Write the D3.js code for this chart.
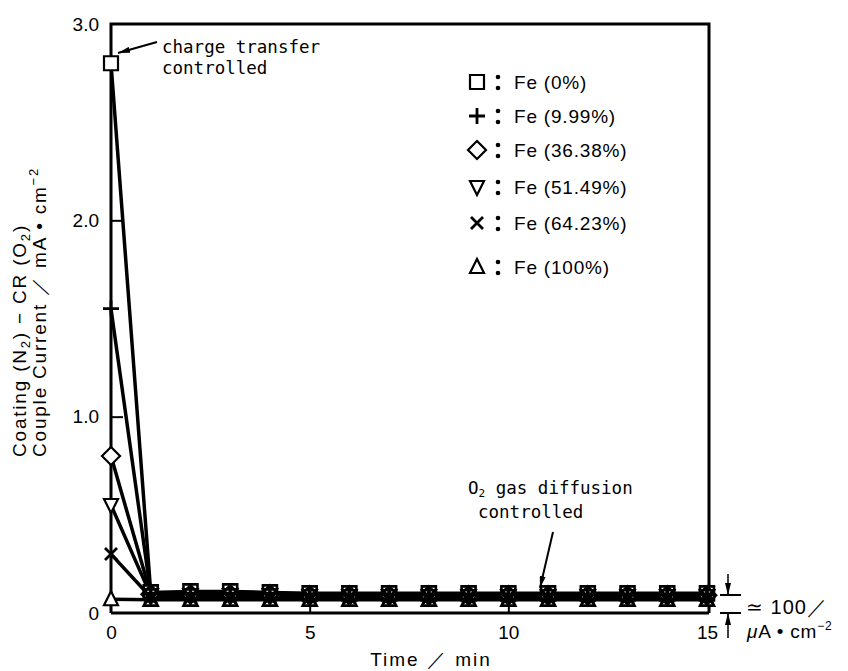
<!DOCTYPE html>
<html><head><meta charset="utf-8">
<script src="https://cdn.jsdelivr.net/npm/d3@7/dist/d3.min.js"></script>
<style>body{margin:0;background:#fff}svg{display:block}</style>
</head><body>
<svg id="c" width="848" height="671"></svg>
<script>
const times = [0,1,2,3,4,5,6,7,8,9,10,11,12,13,14,15];
const seriesNames = ["Fe (0%)","Fe (9.99%)","Fe (36.38%)","Fe (51.49%)","Fe (64.23%)","Fe (100%)"];
const seriesSymbols = ["square","plus","diamond","nabla","cross","triangle"];
const fe0    = [2.80,0.105,0.11,0.11,0.105,0.10,0.10,0.10,0.10,0.10,0.10,0.10,0.10,0.10,0.10,0.10];
const fe999  = [1.55,0.10,0.10,0.10,0.10,0.095,0.095,0.095,0.095,0.095,0.095,0.095,0.095,0.095,0.095,0.095];
const fe3638 = [0.80,0.095,0.095,0.095,0.095,0.09,0.09,0.09,0.09,0.09,0.09,0.09,0.09,0.09,0.09,0.09];
const fe5149 = [0.55,0.09,0.09,0.09,0.09,0.085,0.085,0.085,0.085,0.085,0.085,0.085,0.085,0.085,0.085,0.085];
const fe6423 = [0.30,0.08,0.08,0.08,0.08,0.08,0.08,0.08,0.08,0.08,0.08,0.08,0.08,0.08,0.08,0.08];
const fe100  = [0.07,0.068,0.068,0.068,0.068,0.068,0.068,0.068,0.068,0.068,0.068,0.068,0.068,0.068,0.068,0.068];
const seriesValues = [fe0, fe999, fe3638, fe5149, fe6423, fe100];
const xTicks = [0,5,10,15];
const yTicks = [0,1,2,3];
const yTickLabels = ["0","1.0","2.0","3.0"];

const svg = d3.select("#c");
const L = 111, R = 709, T = 24, B = 613;
const x = d3.scaleLinear().domain([0,15]).range([L,707]);
const y = d3.scaleLinear().domain([0,3]).range([B,T]);
const sans = "'Liberation Sans', Arial, sans-serif";
const mono = "'DejaVu Sans Mono', monospace";

svg.append("defs").append("marker").attr("id","ah").attr("viewBox","0 0 12 6")
  .attr("refX",12).attr("refY",3).attr("markerWidth",12).attr("markerHeight",6)
  .attr("markerUnits","userSpaceOnUse").attr("orient","auto")
  .append("path").attr("d","M0,0 L12,3 L0,6 Z").attr("fill","#000");

// lines
const line = d3.line().x((d,i)=>x(times[i])).y(d=>y(d));
seriesValues.forEach(vals=>{
  svg.append("path").attr("d", line(vals)).attr("fill","none")
    .attr("stroke","#000").attr("stroke-width",3.5);
});

// frame
svg.append("path").attr("d",`M${L},${B} L${L},${T} L${R},${T} L${R},${B}`)
  .attr("fill","none").attr("stroke","#000").attr("stroke-width",3);

// axes
const xAxis = d3.axisBottom(x).tickValues(xTicks).tickSize(-9).tickPadding(13).tickFormat(d3.format("d"));
const gx = svg.append("g").attr("transform",`translate(0,${B})`).call(xAxis);
gx.select(".domain").attr("stroke-width",3).attr("d",`M${L},0H${R}`);
gx.selectAll(".tick line").attr("stroke-width",2);
gx.selectAll(".tick text").attr("font-family",sans).attr("font-size",19).attr("fill","#000");
gx.selectAll(".tick").filter(d=>d===0||d===15).select("line").remove();

const yAxis = d3.axisLeft(y).tickValues(yTicks).tickSize(-12).tickPadding(12).tickFormat((d,i)=>yTickLabels[i]);
const gy = svg.append("g").attr("transform",`translate(${L},0)`).call(yAxis);
gy.select(".domain").remove();
gy.selectAll(".tick line").attr("stroke-width",2);
gy.selectAll(".tick").filter(d=>d===0||d===3).select("line").remove();
gy.selectAll(".tick text").attr("font-family",sans).attr("font-size",19).attr("fill","#000");

// symbols
function symPath(type, cx, cy, s){
  const h = s/2;
  if(type==="square") return `M${cx-h},${cy-h}H${cx+h}V${cy+h}H${cx-h}Z`;
  if(type==="diamond") return `M${cx},${cy-h-2}L${cx+h+2},${cy}L${cx},${cy+h+2}L${cx-h-2},${cy}Z`;
  if(type==="nabla") return `M${cx-h},${cy-h+1}L${cx+h},${cy-h+1}L${cx},${cy+h+1}Z`;
  if(type==="triangle") return `M${cx-h},${cy+h-1}L${cx+h},${cy+h-1}L${cx},${cy-h-1}Z`;
  if(type==="plus") return `M${cx-h-1},${cy}H${cx+h+1}M${cx},${cy-h-1}V${cy+h+1}`;
  return `M${cx-h+1},${cy-h+1}L${cx+h-1},${cy+h-1}M${cx-h+1},${cy+h-1}L${cx+h-1},${cy-h+1}`;
}
const isOpen = t => t==="plus"||t==="cross";
const gFill = svg.append("g"), gStroke = svg.append("g");
seriesValues.forEach((vals,si)=>{
  const t = seriesSymbols[si];
  vals.forEach((v,i)=>{
    const d = symPath(t, x(times[i]), y(v), 14);
    if(!isOpen(t)) gFill.append("path").attr("d",d).attr("fill","#fff");
    gStroke.append("path").attr("d",d).attr("fill","none").attr("stroke","#000")
      .attr("stroke-width", (isOpen(t)?0.6:0) + (i===0 ? 2.2 : 2.6));
  });
});

// legend
const legY = [82,116,150,187,223,267];
const gl = svg.append("g");
seriesNames.forEach((n,i)=>{
  const t = seriesSymbols[i];
  gl.append("path").attr("d",symPath(t,477,legY[i],14)).attr("fill",isOpen(t)?"none":"#fff")
    .attr("stroke","#000").attr("stroke-width",isOpen(t)?2.8:2.2);
  gl.append("circle").attr("cx",498).attr("cy",legY[i]-5).attr("r",2.3);
  gl.append("circle").attr("cx",498).attr("cy",legY[i]+6).attr("r",2.3);
  gl.append("text").attr("x",514).attr("y",legY[i]+7)
    .attr("font-family",sans).attr("font-size",19).attr("letter-spacing",0.8).text(n);
});

// annotations
svg.append("line").attr("x1",157).attr("y1",42).attr("x2",118).attr("y2",53)
  .attr("stroke","#000").attr("stroke-width",2).attr("marker-end","url(#ah)");
svg.append("text").attr("x",162).attr("y",53).attr("font-family",mono).attr("font-size",17.5).text("charge transfer");
svg.append("text").attr("x",162).attr("y",74).attr("font-family",mono).attr("font-size",17.5).text("controlled");

const t2 = svg.append("text").attr("x",468).attr("y",494).attr("font-family",mono).attr("font-size",17.5);
t2.append("tspan").text("O");
t2.append("tspan").attr("font-size",11).attr("dy",3).text("2");
t2.append("tspan").attr("dy",-3).text(" gas diffusion");
svg.append("text").attr("x",478).attr("y",518).attr("font-family",mono).attr("font-size",17.5).text("controlled");
svg.append("line").attr("x1",553).attr("y1",532).attr("x2",540).attr("y2",588)
  .attr("stroke","#000").attr("stroke-width",2).attr("marker-end","url(#ah)");

// right bracket annotation
svg.append("line").attr("x1",720).attr("x2",741).attr("y1",595).attr("y2",595).attr("stroke","#000").attr("stroke-width",2);
svg.append("line").attr("x1",720).attr("x2",741).attr("y1",613).attr("y2",613).attr("stroke","#000").attr("stroke-width",2);
svg.append("line").attr("x1",728).attr("x2",728).attr("y1",574).attr("y2",595).attr("stroke","#000").attr("stroke-width",1.5).attr("marker-end","url(#ah)");
svg.append("line").attr("x1",728).attr("x2",728).attr("y1",638).attr("y2",613).attr("stroke","#000").attr("stroke-width",1.5).attr("marker-end","url(#ah)");
svg.append("text").attr("x",746).attr("y",614).attr("font-family",sans).attr("font-size",20).attr("letter-spacing",1).text("≃ 100／");
const t3 = svg.append("text").attr("x",747).attr("y",638).attr("font-family",sans).attr("font-size",19).attr("letter-spacing",0.8);
t3.append("tspan").attr("font-style","italic").text("μ");
t3.append("tspan").text("A • cm");
t3.append("tspan").attr("font-size",12).attr("dy",-8).text("−2");

// axis titles
svg.append("text").attr("x",431).attr("y",666).attr("text-anchor","middle")
  .attr("font-family",sans).attr("font-size",19).attr("letter-spacing",2).text("Time ／ min");

const yt = svg.append("g").attr("transform","translate(26,457) rotate(-90)");
const l1 = yt.append("text").attr("x",0).attr("y",0).attr("font-family",sans).attr("font-size",19).attr("letter-spacing",1.8);
l1.append("tspan").text("Coating (N");
l1.append("tspan").attr("font-size",13).attr("dy",4).text("2");
l1.append("tspan").attr("dy",-4).text(") − CR (O");
l1.append("tspan").attr("font-size",13).attr("dy",4).text("2");
l1.append("tspan").attr("dy",-4).text(")");
const l2 = yt.append("text").attr("x",0).attr("y",20).attr("font-family",sans).attr("font-size",19).attr("letter-spacing",1.8);
l2.append("tspan").text("Couple Current ／ mA • cm");
l2.append("tspan").attr("font-size",13).attr("dy",-8).text("−2");
</script>
</body></html>
